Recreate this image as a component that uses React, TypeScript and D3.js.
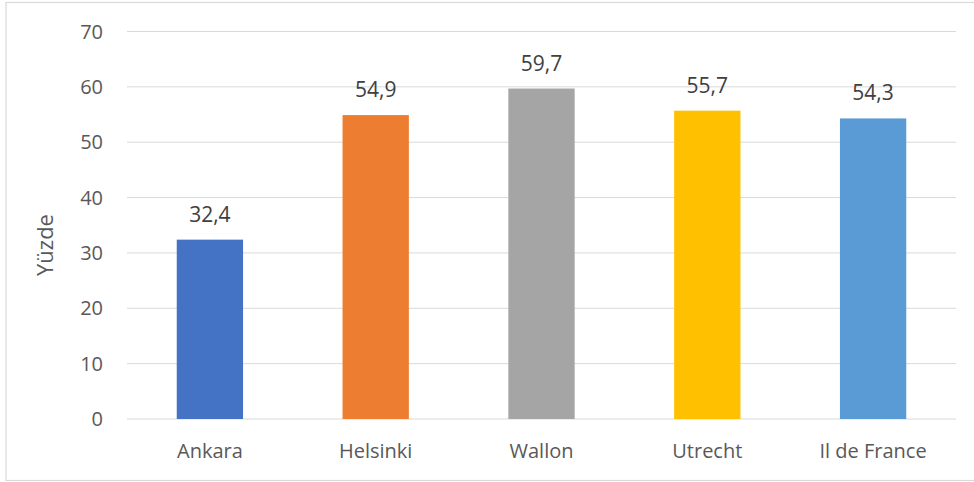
import React from "react";
import * as d3 from "d3";

const categories = ["Ankara", "Helsinki", "Wallon", "Utrecht", "Il de France"];
const values = [32.4, 54.9, 59.7, 55.7, 54.3];
const labels = ["32,4", "54,9", "59,7", "55,7", "54,3"];
const colors = ["#4472C4", "#ED7D31", "#A5A5A5", "#FFC000", "#5B9BD5"];
const yTicks = [0, 10, 20, 30, 40, 50, 60, 70];

export default function App() {
  const W = 974, H = 482;
  const left = 127, right = 956, top = 31.5, bottom = 419;
  const x = d3.scaleBand<string>().domain(categories).range([left, right]).paddingInner(0.6).paddingOuter(0.3);
  const y = d3.scaleLinear().domain([0, 70]).range([bottom, top]);
  const font = "'Open Sans', 'Noto Sans', sans-serif";
  return (
    <svg width={W} height={H} style={{ position: "absolute", left: 0, top: 0 }} fontFamily={font}>
      <rect x={0} y={0} width={W} height={H} fill="#fff" />
      <rect x={6} y={2.5} width={970} height={478} fill="none" stroke="#d9d9d9" strokeWidth={1.2} />
      {yTicks.map((t) => (
        <g key={t}>
          <line x1={left} x2={right} y1={y(t)} y2={y(t)} stroke="#d9d9d9" strokeWidth={1} />
          <text x={103} y={y(t)} dy="0.36em" textAnchor="end" fontSize={20} fill="#595959">{t}</text>
        </g>
      ))}
      {categories.map((c, i) => (
        <g key={c}>
          <rect x={x(c)!} y={y(values[i])} width={x.bandwidth()} height={y(0) - y(values[i])} fill={colors[i]} />
          <text x={x(c)! + x.bandwidth() / 2} y={y(values[i]) - 18} textAnchor="middle" fontSize={21} fill="#404040">{labels[i]}</text>
          <text x={x(c)! + x.bandwidth() / 2} y={458} textAnchor="middle" fontSize={20} fill="#595959">{c}</text>
        </g>
      ))}
      <text transform={`translate(53,245) rotate(-90)`} textAnchor="middle" fontSize={22} fill="#595959">Yüzde</text>
    </svg>
  );
}
